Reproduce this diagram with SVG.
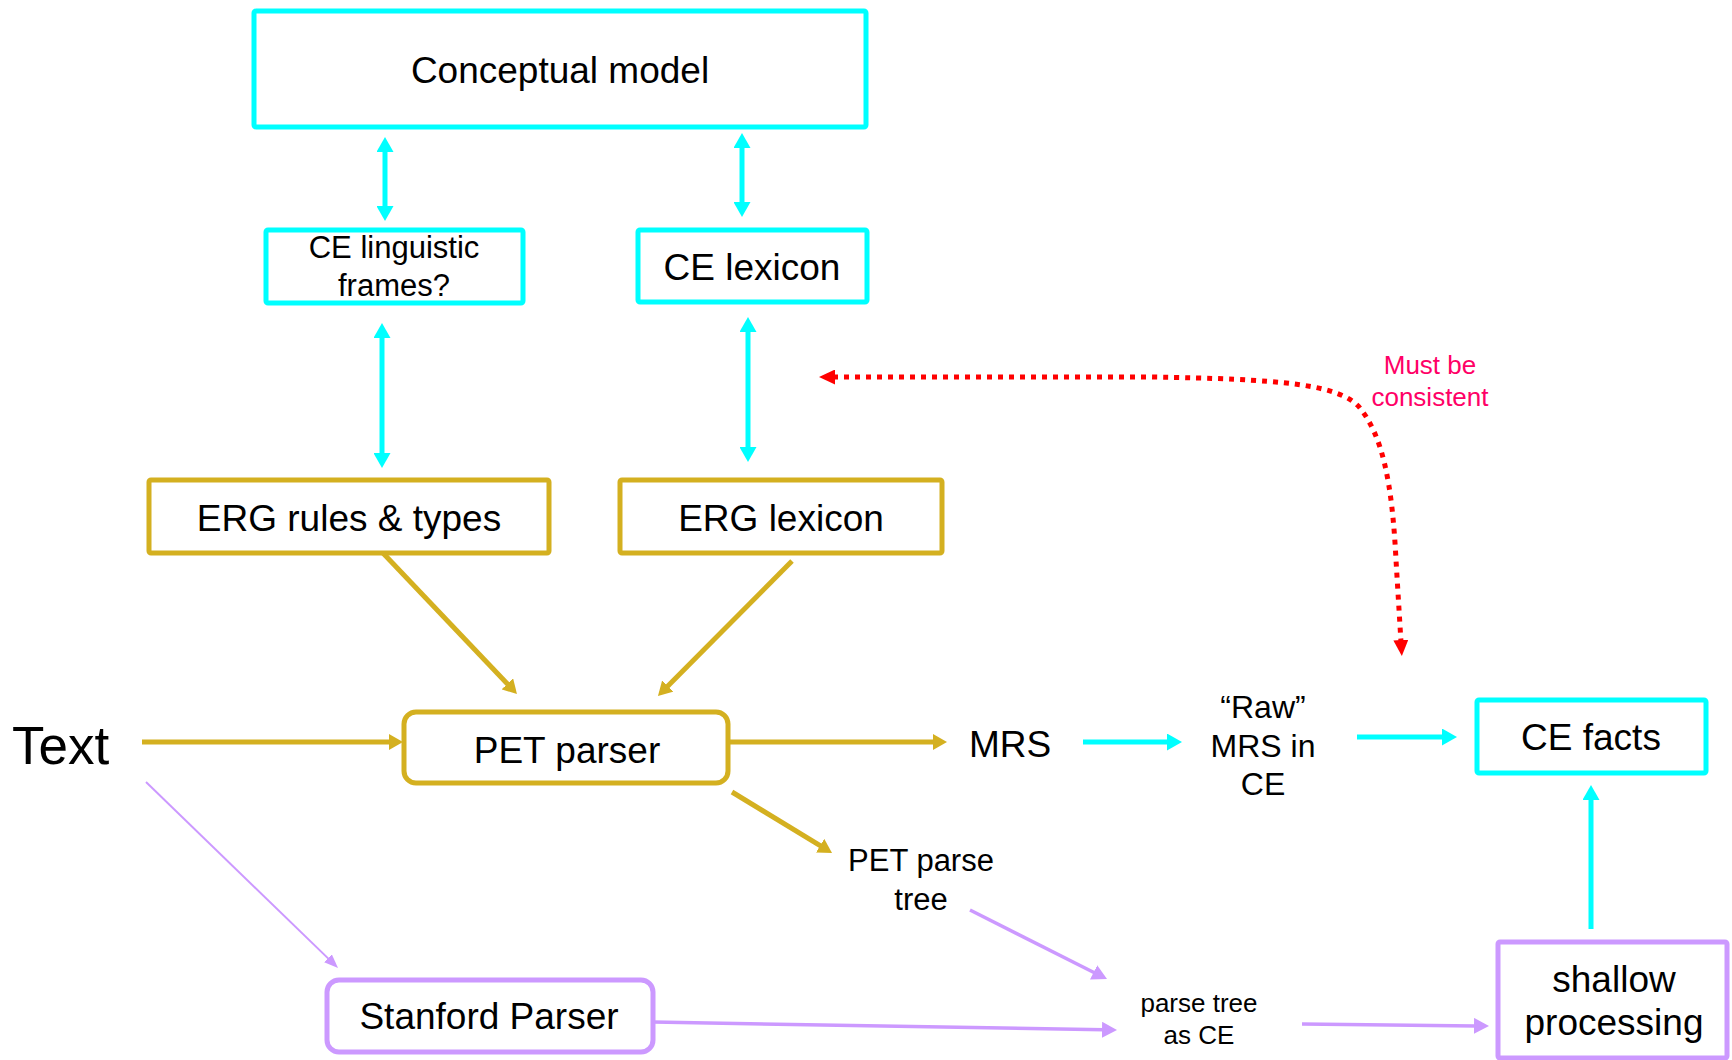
<svg xmlns="http://www.w3.org/2000/svg" width="1732" height="1060" viewBox="0 0 1732 1060">
  <style>
    text { font-family: "Liberation Sans", Arial, sans-serif; fill: #000; text-anchor: middle; }
    .big { font-size: 37px; }
    .mid { font-size: 32px; }
    .small { font-size: 26px; }
    .box { fill: #fff; stroke-width: 5; }
    .cyan { stroke: #00FFFF; }
    .gold { stroke: #D4B020; }
    .purple { stroke: #CC99FF; }
    .conn { fill: none; }
    .c-cyan { stroke: #00FFFF; stroke-width: 5; }
    .c-gold { stroke: #D4B020; stroke-width: 5; }
    .c-purple { stroke: #CC99FF; stroke-width: 3.5; }
    .c-thin { stroke: #CC99FF; stroke-width: 2; }
    .c-red { stroke: #FF0000; stroke-width: 5; stroke-dasharray: 5 6; }
    .note { fill: #FF0066; }
  </style>
  <defs>
    <marker id="ah-cyan" markerUnits="userSpaceOnUse" markerWidth="15" markerHeight="17" refX="2" refY="8.5" orient="auto-start-reverse">
      <path d="M0,0 L15,8.5 L0,17 Z" fill="#00FFFF"/>
    </marker>
    <marker id="ah-gold" markerUnits="userSpaceOnUse" markerWidth="14" markerHeight="16" refX="2" refY="8" orient="auto-start-reverse">
      <path d="M0,0 L14,8 L0,16 Z" fill="#D4B020"/>
    </marker>
    <marker id="ah-purple" markerUnits="userSpaceOnUse" markerWidth="15" markerHeight="16" refX="2" refY="8" orient="auto-start-reverse">
      <path d="M0,0 L15,8 L0,16 Z" fill="#CC99FF"/>
    </marker>
    <marker id="ah-thin" markerUnits="userSpaceOnUse" markerWidth="14" markerHeight="11" refX="2" refY="5.5" orient="auto-start-reverse">
      <path d="M0,0 L14,5.5 L0,11 Z" fill="#CC99FF"/>
    </marker>
    <marker id="ah-red" markerUnits="userSpaceOnUse" markerWidth="16" markerHeight="15" refX="2" refY="7.5" orient="auto-start-reverse">
      <path d="M0,0 L16,7.5 L0,15 Z" fill="#FF0000"/>
    </marker>
  </defs>

  <!-- connectors -->
  <g id="connectors" class="conn">
    <!-- knowledge links (two-way) -->
    <line class="c-cyan" x1="385" y1="150" x2="385" y2="208" marker-start="url(#ah-cyan)" marker-end="url(#ah-cyan)"/>
    <line class="c-cyan" x1="742" y1="146" x2="742" y2="204" marker-start="url(#ah-cyan)" marker-end="url(#ah-cyan)"/>
    <line class="c-cyan" x1="382" y1="336" x2="382" y2="455" marker-start="url(#ah-cyan)" marker-end="url(#ah-cyan)"/>
    <line class="c-cyan" x1="748" y1="330" x2="748" y2="449" marker-start="url(#ah-cyan)" marker-end="url(#ah-cyan)"/>
    <!-- deep parsing pipeline -->
    <line class="c-gold" x1="142" y1="742" x2="391" y2="742" marker-end="url(#ah-gold)"/>
    <line class="c-gold" x1="729" y1="742" x2="935" y2="742" marker-end="url(#ah-gold)"/>
    <line class="c-gold" x1="382" y1="552" x2="508.7" y2="685.3" marker-end="url(#ah-gold)"/>
    <line class="c-gold" x1="792" y1="561" x2="666.4" y2="687.5" marker-end="url(#ah-gold)"/>
    <line class="c-gold" x1="732" y1="792" x2="821.8" y2="846.7" marker-end="url(#ah-gold)"/>
    <line class="c-cyan" x1="1083" y1="742" x2="1169" y2="742" marker-end="url(#ah-cyan)"/>
    <line class="c-cyan" x1="1357" y1="737" x2="1444" y2="737" marker-end="url(#ah-cyan)"/>
    <!-- shallow pipeline -->
    <line class="c-thin" x1="146" y1="782" x2="329.4" y2="959.6" marker-end="url(#ah-thin)"/>
    <line class="c-purple" x1="970" y1="910" x2="1095.4" y2="973.2" marker-end="url(#ah-purple)"/>
    <line class="c-purple" x1="653" y1="1022" x2="1104" y2="1029.8" marker-end="url(#ah-purple)"/>
    <line class="c-purple" x1="1302" y1="1024" x2="1476" y2="1025.9" marker-end="url(#ah-purple)"/>
    <line class="c-cyan" x1="1591" y1="929" x2="1591" y2="798" marker-end="url(#ah-cyan)"/>
    <!-- consistency constraint -->
    <path class="c-red" d="M833,377 L1150,377 C1280,379 1340,384 1360,408 C1382,436 1392,480 1396,560 L1401,642" marker-start="url(#ah-red)" marker-end="url(#ah-red)"/>
  </g>

  <!-- nodes -->
  <g id="conceptual-model">
    <rect class="box cyan" x="254" y="11" width="612" height="116" rx="2"/>
    <text class="big" x="560" y="83">Conceptual model</text>
  </g>
  <g id="ce-linguistic-frames">
    <rect class="box cyan" x="266" y="230" width="257" height="73" rx="2"/>
    <text class="mid" x="394" y="258" style="font-size:31px">CE linguistic</text>
    <text class="mid" x="394" y="296" style="font-size:31px">frames?</text>
  </g>
  <g id="ce-lexicon">
    <rect class="box cyan" x="638" y="230" width="229" height="72" rx="2"/>
    <text class="big" x="752" y="280">CE lexicon</text>
  </g>
  <g id="erg-rules">
    <rect class="box gold" x="149" y="480" width="400" height="73" rx="2"/>
    <text class="big" x="349" y="531">ERG rules &amp; types</text>
  </g>
  <g id="erg-lexicon">
    <rect class="box gold" x="620" y="480" width="322" height="73" rx="2"/>
    <text class="big" x="781" y="531">ERG lexicon</text>
  </g>
  <g id="text-input">
    <text x="12" y="764" style="font-size:53px; text-anchor:start">Text</text>
  </g>
  <g id="pet-parser">
    <rect class="box gold" x="404" y="712" width="324" height="71" rx="12"/>
    <text class="big" x="567" y="763">PET parser</text>
  </g>
  <g id="mrs">
    <text class="big" x="1010" y="757">MRS</text>
  </g>
  <g id="raw-mrs">
    <text class="mid" x="1263" y="718">“Raw”</text>
    <text class="mid" x="1263" y="757">MRS in</text>
    <text class="mid" x="1263" y="795">CE</text>
  </g>
  <g id="ce-facts">
    <rect class="box cyan" x="1477" y="700" width="229" height="73" rx="2"/>
    <text class="big" x="1591" y="750">CE facts</text>
  </g>
  <g id="pet-parse-tree">
    <text class="mid" x="921" y="871" style="font-size:31px">PET parse</text>
    <text class="mid" x="921" y="910" style="font-size:31px">tree</text>
  </g>
  <g id="parse-tree-ce">
    <text class="small" x="1199" y="1012">parse tree</text>
    <text class="small" x="1199" y="1044">as CE</text>
  </g>
  <g id="stanford-parser">
    <rect class="box purple" x="327" y="980" width="326" height="72" rx="12"/>
    <text class="big" x="489" y="1029">Stanford Parser</text>
  </g>
  <g id="shallow-processing">
    <rect class="box purple" x="1498" y="942" width="229" height="116" rx="2"/>
    <text class="big" x="1614" y="992">shallow</text>
    <text class="big" x="1614" y="1035">processing</text>
  </g>
  <g id="consistency-note">
    <text class="small note" x="1430" y="374">Must be</text>
    <text class="small note" x="1430" y="406">consistent</text>
  </g>
</svg>
